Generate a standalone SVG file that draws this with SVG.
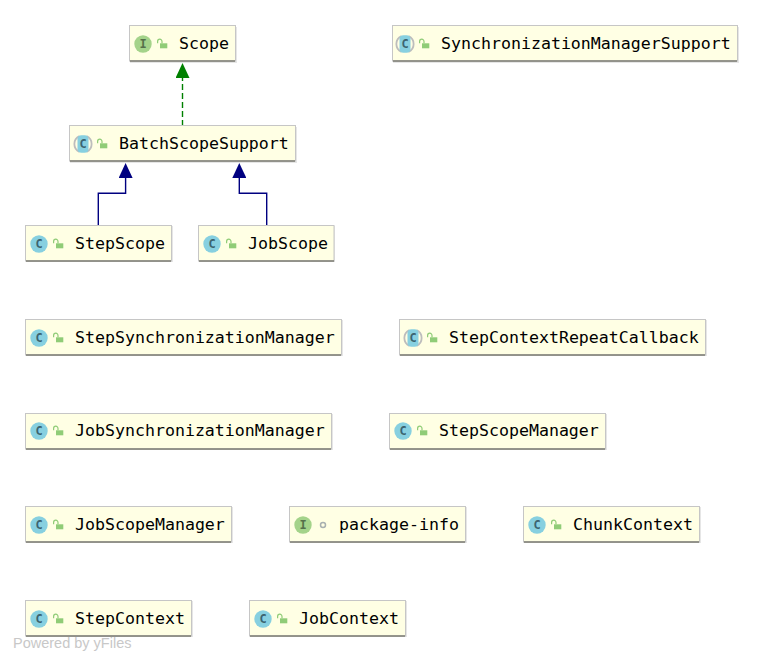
<svg xmlns="http://www.w3.org/2000/svg" width="763" height="662" viewBox="0 0 763 662">
<style>
.box{fill:#ffffe4;stroke:#c6c6c6;stroke-width:1}
.base{stroke:#7b7b72;stroke-width:1.4}
.shadow{fill:#e6e6e6}
text.n{font-family:"DejaVu Sans Mono","Liberation Mono",monospace;font-size:16.6px;fill:#000}
.ctext{font-family:"DejaVu Sans Mono",monospace;font-size:12px;font-weight:bold;text-anchor:middle}
.lock{fill:#90cc77}
.shackle{fill:none;stroke:#90cc77;stroke-width:1.2}
.impl{fill:none;stroke:#008000;stroke-width:1.4;stroke-dasharray:6 3}
.ext{fill:none;stroke:#000080;stroke-width:1.4}
</style>
<defs>
<marker id="tg" markerUnits="userSpaceOnUse" markerWidth="15" markerHeight="14" refX="0" refY="7" orient="auto" viewBox="0 0 15 14"><path d="M15 7L0 0V14Z" fill="#008000"/></marker>
<marker id="tb" markerUnits="userSpaceOnUse" markerWidth="15" markerHeight="14" refX="0" refY="7" orient="auto" viewBox="0 0 15 14"><path d="M15 7L0 0V14Z" fill="#000080"/></marker>
<g id="lock"><rect class="lock" x="-2" y="-0.700" width="7.300" height="5"/><path class="shackle" d="M-4.400 -0.800V-2.600A2.200 2.200 0 0 1 0 -2.600V-0.700"/></g>
<g id="cc"><circle r="8.700" fill="#87d0e0"/><text class="ctext" y="4.200" fill="#3c6470">C</text></g>
<g id="ci"><circle r="8.700" fill="#a4d38a"/><text class="ctext" y="4.200" fill="#55704a">I</text></g>
<g id="ca"><path d="M-3.500 -7.800A8.500 8.500 0 0 0 -3.500 7.800M3.500 -7.800A8.500 8.500 0 0 1 3.500 7.800" fill="none" stroke="#bdbdbd" stroke-width="1.800"/><rect x="-5.500" y="-8.700" width="11" height="17.400" rx="4" fill="#87d0e0"/><text class="ctext" y="4.200" fill="#3c6470">C</text></g>
</defs>
<g id="connectors">
<path class="impl" d="M182.500 126V78" marker-end="url(#tg)"/>
<path class="ext" d="M98.300 225V193.300H125.600V178" marker-end="url(#tb)"/>
<path class="ext" d="M266.700 225V193.300H239.300V178" marker-end="url(#tb)"/>
</g>
<g id="Scope"><rect class="shadow" x="130" y="27" width="107" height="36"/><rect class="box" x="129.500" y="25.500" width="106" height="35.500"/><path class="base" d="M130 61H235"/><use href="#ci" x="143" y="44"/><use href="#lock" x="162" y="44"/><text class="n" x="179" y="49">Scope</text></g>
<g id="SynchronizationManagerSupport"><rect class="shadow" x="393" y="27" width="346" height="36"/><rect class="box" x="392.500" y="25.500" width="345" height="35.500"/><path class="base" d="M393 61H737"/><use href="#ca" x="405" y="44"/><use href="#lock" x="424" y="44"/><text class="n" x="441" y="49">SynchronizationManagerSupport</text></g>
<g id="BatchScopeSupport"><rect class="shadow" x="70" y="127" width="227" height="36"/><rect class="box" x="69.500" y="125.500" width="226" height="35.500"/><path class="base" d="M70 161H295"/><use href="#ca" x="83" y="144"/><use href="#lock" x="102" y="144"/><text class="n" x="119" y="149">BatchScopeSupport</text></g>
<g id="StepScope"><rect class="shadow" x="26" y="226" width="147" height="36"/><rect class="box" x="25.500" y="225.500" width="146" height="35.500"/><path class="base" d="M26 261H171"/><use href="#cc" x="39" y="244"/><use href="#lock" x="58" y="244"/><text class="n" x="75" y="249">StepScope</text></g>
<g id="JobScope"><rect class="shadow" x="199" y="226" width="136" height="36"/><rect class="box" x="198.500" y="225.500" width="135.500" height="35.500"/><path class="base" d="M199 261H334"/><use href="#cc" x="212" y="244"/><use href="#lock" x="231" y="244"/><text class="n" x="248" y="249">JobScope</text></g>
<g id="StepSynchronizationManager"><rect class="shadow" x="26" y="320" width="317" height="36"/><rect class="box" x="25.500" y="319.500" width="316" height="35.500"/><path class="base" d="M26 355H341"/><use href="#cc" x="39" y="338"/><use href="#lock" x="58" y="338"/><text class="n" x="75" y="343">StepSynchronizationManager</text></g>
<g id="StepContextRepeatCallback"><rect class="shadow" x="400" y="320" width="307" height="36"/><rect class="box" x="399.500" y="319.500" width="306" height="35.500"/><path class="base" d="M400 355H705"/><use href="#ca" x="413" y="338"/><use href="#lock" x="432" y="338"/><text class="n" x="449" y="343">StepContextRepeatCallback</text></g>
<g id="JobSynchronizationManager"><rect class="shadow" x="26" y="414" width="307" height="36"/><rect class="box" x="25.500" y="413.500" width="306" height="35.500"/><path class="base" d="M26 449H331"/><use href="#cc" x="39" y="431"/><use href="#lock" x="58" y="431"/><text class="n" x="75" y="436">JobSynchronizationManager</text></g>
<g id="StepScopeManager"><rect class="shadow" x="390" y="414" width="217" height="36"/><rect class="box" x="389.500" y="413.500" width="216" height="35.500"/><path class="base" d="M390 449H605"/><use href="#cc" x="403" y="431"/><use href="#lock" x="422" y="431"/><text class="n" x="439" y="436">StepScopeManager</text></g>
<g id="JobScopeManager"><rect class="shadow" x="26" y="507" width="207" height="36"/><rect class="box" x="25.500" y="506.500" width="206" height="35.500"/><path class="base" d="M26 542H231"/><use href="#cc" x="39" y="525"/><use href="#lock" x="58" y="525"/><text class="n" x="75" y="530">JobScopeManager</text></g>
<g id="package-info"><rect class="shadow" x="290" y="507" width="177" height="36"/><rect class="box" x="289.500" y="506.500" width="176" height="35.500"/><path class="base" d="M290 542H465"/><use href="#ci" x="303" y="525"/><circle cx="323" cy="525" r="2.500" fill="none" stroke="#a8b0b0" stroke-width="1.500"/><text class="n" x="339" y="530">package-info</text></g>
<g id="ChunkContext"><rect class="shadow" x="524" y="507" width="177" height="36"/><rect class="box" x="523.500" y="506.500" width="176" height="35.500"/><path class="base" d="M524 542H699"/><use href="#cc" x="537" y="525"/><use href="#lock" x="556" y="525"/><text class="n" x="573" y="530">ChunkContext</text></g>
<g id="StepContext"><rect class="shadow" x="26" y="601" width="167" height="36"/><rect class="box" x="25.500" y="600.500" width="166" height="35.500"/><path class="base" d="M26 636H191"/><use href="#cc" x="39" y="619"/><use href="#lock" x="58" y="619"/><text class="n" x="75" y="624">StepContext</text></g>
<g id="JobContext"><rect class="shadow" x="250" y="601" width="157" height="36"/><rect class="box" x="249.500" y="600.500" width="156" height="35.500"/><path class="base" d="M250 636H405"/><use href="#cc" x="263" y="619"/><use href="#lock" x="282" y="619"/><text class="n" x="299" y="624">JobContext</text></g>
<text x="13" y="648" font-family="'Liberation Sans',Arial,sans-serif" font-size="14.500px" fill="#c8c8c8">Powered by yFiles</text>
</svg>
